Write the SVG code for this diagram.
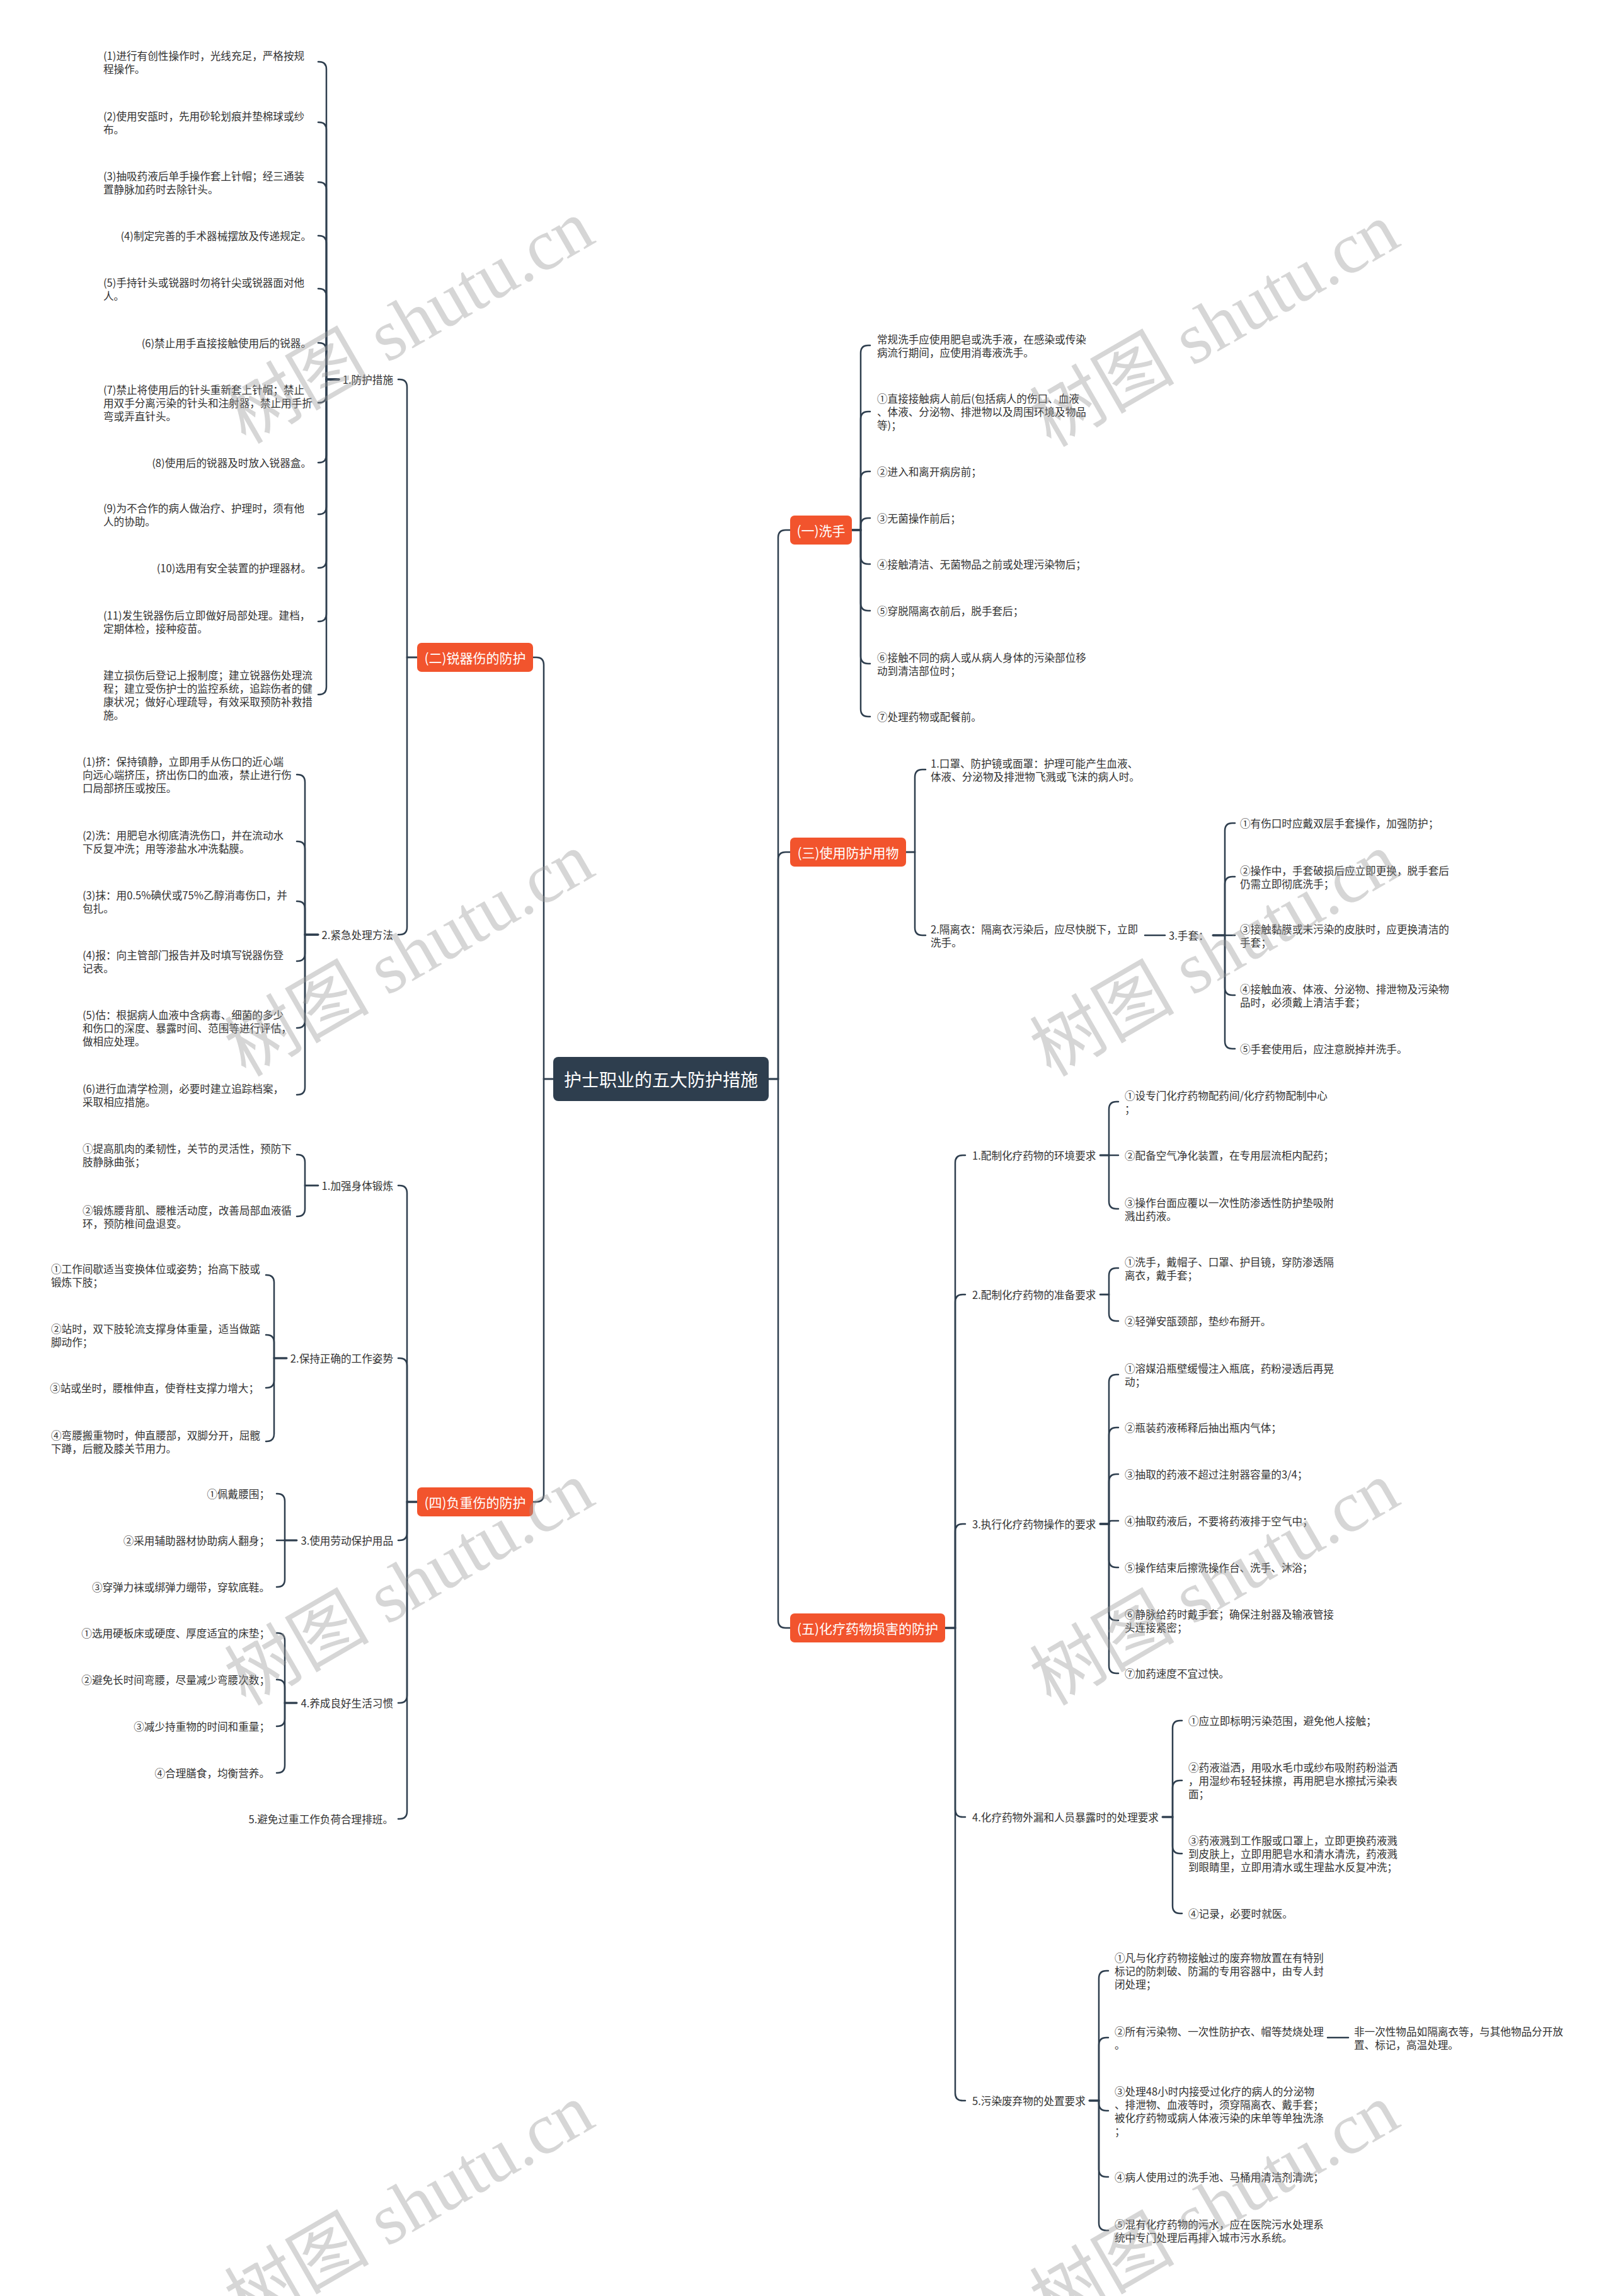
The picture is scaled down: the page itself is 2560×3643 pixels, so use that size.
<svg xmlns="http://www.w3.org/2000/svg" width="2560" height="3643" viewBox="0 0 2560 3643">
<style>
text{font-family:"Noto Sans CJK SC","Liberation Sans",sans-serif;dominant-baseline:central}
.t{font-size:16.6px;fill:#333}
.e{text-anchor:end}
.br{font-size:21px;fill:#fff;text-anchor:middle}
.rt{font-size:28px;fill:#fff;text-anchor:middle}
.bx{fill:#f2542d}
.c{fill:none;stroke:#2e3e4e;stroke-width:2.5;stroke-linecap:round}
.wm{font-family:"Liberation Serif","Noto Sans CJK SC",serif;font-size:115px;fill:#999;fill-opacity:0.4;text-anchor:middle}
</style>
<rect width="2560" height="3643" fill="#fff"/>
<g id="connectors">
<path class="c" d="M878 1712 H863 V1055 Q863 1043 851 1043 H846"/>
<path class="c" d="M878 1712 H863 V2371 Q863 2383 851 2383 H846"/>
<path class="c" d="M1220 1712 H1235 V853 Q1235 841 1247 841 H1254"/>
<path class="c" d="M1220 1712 H1235 V1364 Q1235 1352 1247 1352 H1254"/>
<path class="c" d="M1220 1712 H1235 V2571 Q1235 2583 1247 2583 H1254"/>
<path class="c" d="M1352 841 H1366 V560 Q1366 548 1378 548 H1381"/>
<path class="c" d="M1352 841 H1366 V665 Q1366 653 1378 653 H1381"/>
<path class="c" d="M1352 841 H1366 V760 Q1366 748 1378 748 H1381"/>
<path class="c" d="M1352 841 H1366 V834 Q1366 822 1378 822 H1381"/>
<path class="c" d="M1352 841 H1366 V883 Q1366 895 1378 895 H1381"/>
<path class="c" d="M1352 841 H1366 V957 Q1366 969 1378 969 H1381"/>
<path class="c" d="M1352 841 H1366 V1041 Q1366 1053 1378 1053 H1381"/>
<path class="c" d="M1352 841 H1366 V1125 Q1366 1137 1378 1137 H1381"/>
<path class="c" d="M1438 1352 H1452 V1233 Q1452 1221 1464 1221 H1469"/>
<path class="c" d="M1438 1352 H1452 V1472 Q1452 1484 1464 1484 H1469"/>
<path class="c" d="M1817 1484 H1849"/>
<path class="c" d="M1925 1484 H1944 V1318 Q1944 1306 1956 1306 H1960"/>
<path class="c" d="M1925 1484 H1944 V1403 Q1944 1391 1956 1391 H1960"/>
<path class="c" d="M1925 1484 H1960"/>
<path class="c" d="M1925 1484 H1944 V1567 Q1944 1579 1956 1579 H1960"/>
<path class="c" d="M1925 1484 H1944 V1652 Q1944 1664 1956 1664 H1960"/>
<path class="c" d="M1500 2583 H1516 V1845 Q1516 1833 1528 1833 H1532"/>
<path class="c" d="M1500 2583 H1516 V2066 Q1516 2054 1528 2054 H1532"/>
<path class="c" d="M1500 2583 H1516 V2430 Q1516 2418 1528 2418 H1532"/>
<path class="c" d="M1500 2583 H1516 V2871 Q1516 2883 1528 2883 H1532"/>
<path class="c" d="M1500 2583 H1516 V3321 Q1516 3333 1528 3333 H1532"/>
<path class="c" d="M1746 1833 H1760 V1760 Q1760 1748 1772 1748 H1775"/>
<path class="c" d="M1746 1833 H1775"/>
<path class="c" d="M1746 1833 H1760 V1906 Q1760 1918 1772 1918 H1775"/>
<path class="c" d="M1746 2054 H1760 V2024 Q1760 2012 1772 2012 H1775"/>
<path class="c" d="M1746 2054 H1760 V2084 Q1760 2096 1772 2096 H1775"/>
<path class="c" d="M1746 2418 H1760 V2193 Q1760 2181 1772 2181 H1775"/>
<path class="c" d="M1746 2418 H1760 V2277 Q1760 2265 1772 2265 H1775"/>
<path class="c" d="M1746 2418 H1760 V2351 Q1760 2339 1772 2339 H1775"/>
<path class="c" d="M1746 2418 H1760 V2417 Q1760 2413 1764 2413 H1775"/>
<path class="c" d="M1746 2418 H1760 V2475 Q1760 2487 1772 2487 H1775"/>
<path class="c" d="M1746 2418 H1760 V2559 Q1760 2571 1772 2571 H1775"/>
<path class="c" d="M1746 2418 H1760 V2643 Q1760 2655 1772 2655 H1775"/>
<path class="c" d="M1845 2883 H1861 V2742 Q1861 2730 1873 2730 H1876"/>
<path class="c" d="M1845 2883 H1861 V2837 Q1861 2825 1873 2825 H1876"/>
<path class="c" d="M1845 2883 H1861 V2929 Q1861 2941 1873 2941 H1876"/>
<path class="c" d="M1845 2883 H1861 V3024 Q1861 3036 1873 3036 H1876"/>
<path class="c" d="M1729 3333 H1744 V3139 Q1744 3127 1756 3127 H1759"/>
<path class="c" d="M1729 3333 H1744 V3245 Q1744 3233 1756 3233 H1759"/>
<path class="c" d="M1729 3333 H1744 V3337 Q1744 3349 1756 3349 H1759"/>
<path class="c" d="M1729 3333 H1744 V3442 Q1744 3454 1756 3454 H1759"/>
<path class="c" d="M1729 3333 H1744 V3527 Q1744 3539 1756 3539 H1759"/>
<path class="c" d="M2107 3233 H2140"/>
<path class="c" d="M662 1043 H646 V614 Q646 602 634 602 H632"/>
<path class="c" d="M662 1043 H646 V1471 Q646 1483 634 1483 H632"/>
<path class="c" d="M538 602 H518 V110 Q518 98 506 98 H505"/>
<path class="c" d="M538 602 H518 V206 Q518 194 506 194 H505"/>
<path class="c" d="M538 602 H518 V301 Q518 289 506 289 H505"/>
<path class="c" d="M538 602 H518 V386 Q518 374 506 374 H505"/>
<path class="c" d="M538 602 H518 V470 Q518 458 506 458 H505"/>
<path class="c" d="M538 602 H518 V556 Q518 544 506 544 H505"/>
<path class="c" d="M538 602 H518 V627 Q518 639 506 639 H505"/>
<path class="c" d="M538 602 H518 V722 Q518 734 506 734 H505"/>
<path class="c" d="M538 602 H518 V804 Q518 816 506 816 H505"/>
<path class="c" d="M538 602 H518 V889 Q518 901 506 901 H505"/>
<path class="c" d="M538 602 H518 V974 Q518 986 506 986 H505"/>
<path class="c" d="M538 602 H518 V1090 Q518 1102 506 1102 H505"/>
<path class="c" d="M505 1483 H484 V1241 Q484 1229 472 1229 H471"/>
<path class="c" d="M505 1483 H484 V1347 Q484 1335 472 1335 H471"/>
<path class="c" d="M505 1483 H484 V1442 Q484 1430 472 1430 H471"/>
<path class="c" d="M505 1483 H484 V1513 Q484 1525 472 1525 H471"/>
<path class="c" d="M505 1483 H484 V1619 Q484 1631 472 1631 H471"/>
<path class="c" d="M505 1483 H484 V1725 Q484 1737 472 1737 H471"/>
<path class="c" d="M662 2383 H646 V1893 Q646 1881 634 1881 H632"/>
<path class="c" d="M662 2383 H646 V2167 Q646 2155 634 2155 H632"/>
<path class="c" d="M662 2383 H646 V2432 Q646 2444 634 2444 H632"/>
<path class="c" d="M662 2383 H646 V2690 Q646 2702 634 2702 H632"/>
<path class="c" d="M662 2383 H646 V2874 Q646 2886 634 2886 H632"/>
<path class="c" d="M505 1881 H484 V1844 Q484 1832 472 1832 H471"/>
<path class="c" d="M505 1881 H484 V1918 Q484 1930 472 1930 H471"/>
<path class="c" d="M455 2155 H435 V2035 Q435 2023 423 2023 H422"/>
<path class="c" d="M455 2155 H435 V2130 Q435 2118 423 2118 H422"/>
<path class="c" d="M455 2155 H435 V2190 Q435 2202 423 2202 H422"/>
<path class="c" d="M455 2155 H435 V2275 Q435 2287 423 2287 H422"/>
<path class="c" d="M471 2444 H452 V2382 Q452 2370 440 2370 H439"/>
<path class="c" d="M471 2444 H439"/>
<path class="c" d="M471 2444 H452 V2506 Q452 2518 440 2518 H439"/>
<path class="c" d="M471 2702 H452 V2603 Q452 2591 440 2591 H439"/>
<path class="c" d="M471 2702 H452 V2677 Q452 2665 440 2665 H439"/>
<path class="c" d="M471 2702 H452 V2727 Q452 2739 440 2739 H439"/>
<path class="c" d="M471 2702 H452 V2801 Q452 2813 440 2813 H439"/>
</g>

<g id="root"><rect x="878" y="1677" width="342" height="70" rx="8" fill="#2e3e4e"/><text class="rt" x="1049" y="1712">护士职业的五大防护措施</text></g>

<g id="b1"><rect class="bx" x="1254" y="818" width="98" height="46" rx="7"/><text class="br" x="1303" y="841">(一)洗手</text></g>
<g id="b3"><rect class="bx" x="1254" y="1329" width="184" height="46" rx="7"/><text class="br" x="1346" y="1352">(三)使用防护用物</text></g>
<g id="b5"><rect class="bx" x="1254" y="2560" width="246" height="46" rx="7"/><text class="br" x="1377" y="2583">(五)化疗药物损害的防护</text></g>
<g id="b2"><rect class="bx" x="662" y="1020" width="184" height="46" rx="7"/><text class="br" x="754" y="1043">(二)锐器伤的防护</text></g>
<g id="b4"><rect class="bx" x="662" y="2360" width="184" height="46" rx="7"/><text class="br" x="754" y="2383">(四)负重伤的防护</text></g>

<g id="n1-items">
<g id="n1-0"><text class="t"><tspan x="1392" y="537.5">常规洗手应使用肥皂或洗手液，在感染或传染</tspan><tspan x="1392" y="558.5">病流行期间，应使用消毒液洗手。</tspan></text></g>
<g id="n1-1"><text class="t"><tspan x="1392" y="632">①直接接触病人前后(包括病人的伤口、血液</tspan><tspan x="1392" y="653">、体液、分泌物、排泄物以及周围环境及物品</tspan><tspan x="1392" y="674">等)；</tspan></text></g>
<g id="n1-2"><text class="t" x="1392" y="748">②进入和离开病房前；</text></g>
<g id="n1-3"><text class="t" x="1392" y="822">③无菌操作前后；</text></g>
<g id="n1-4"><text class="t" x="1392" y="895">④接触清洁、无菌物品之前或处理污染物后；</text></g>
<g id="n1-5"><text class="t" x="1392" y="969">⑤穿脱隔离衣前后，脱手套后；</text></g>
<g id="n1-6"><text class="t"><tspan x="1392" y="1042.5">⑥接触不同的病人或从病人身体的污染部位移</tspan><tspan x="1392" y="1063.5">动到清洁部位时；</tspan></text></g>
<g id="n1-7"><text class="t" x="1392" y="1137">⑦处理药物或配餐前。</text></g>
</g>

<g id="n3-items">
<g id="n3-1"><text class="t"><tspan x="1477" y="1210.5">1.口罩、防护镜或面罩：护理可能产生血液、</tspan><tspan x="1477" y="1231.5">体液、分泌物及排泄物飞溅或飞沫的病人时。</tspan></text></g>
<g id="n3-2"><text class="t"><tspan x="1477" y="1473.5">2.隔离衣：隔离衣污染后，应尽快脱下，立即</tspan><tspan x="1477" y="1494.5">洗手。</tspan></text></g>
<g id="n3-3"><text class="t" x="1855" y="1484">3.手套：</text></g>
<g id="n3-3-1"><text class="t" x="1968" y="1306">①有伤口时应戴双层手套操作，加强防护；</text></g>
<g id="n3-3-2"><text class="t"><tspan x="1968" y="1380.5">②操作中，手套破损后应立即更换，脱手套后</tspan><tspan x="1968" y="1401.5">仍需立即彻底洗手；</tspan></text></g>
<g id="n3-3-3"><text class="t"><tspan x="1968" y="1473.5">③接触黏膜或未污染的皮肤时，应更换清洁的</tspan><tspan x="1968" y="1494.5">手套；</tspan></text></g>
<g id="n3-3-4"><text class="t"><tspan x="1968" y="1568.5">④接触血液、体液、分泌物、排泄物及污染物</tspan><tspan x="1968" y="1589.5">品时，必须戴上清洁手套；</tspan></text></g>
<g id="n3-3-5"><text class="t" x="1968" y="1664">⑤手套使用后，应注意脱掉并洗手。</text></g>
</g>

<g id="n5-items">
<g id="n5-1"><text class="t" x="1543" y="1833">1.配制化疗药物的环境要求</text></g>
<g id="n5-1-1"><text class="t"><tspan x="1785" y="1737.5">①设专门化疗药物配药间/化疗药物配制中心</tspan><tspan x="1785" y="1758.5">；</tspan></text></g>
<g id="n5-1-2"><text class="t" x="1785" y="1833">②配备空气净化装置，在专用层流柜内配药；</text></g>
<g id="n5-1-3"><text class="t"><tspan x="1785" y="1907.5">③操作台面应覆以一次性防渗透性防护垫吸附</tspan><tspan x="1785" y="1928.5">溅出药液。</tspan></text></g>
<g id="n5-2"><text class="t" x="1543" y="2054">2.配制化疗药物的准备要求</text></g>
<g id="n5-2-1"><text class="t"><tspan x="1785" y="2001.5">①洗手，戴帽子、口罩、护目镜，穿防渗透隔</tspan><tspan x="1785" y="2022.5">离衣，戴手套；</tspan></text></g>
<g id="n5-2-2"><text class="t" x="1785" y="2096">②轻弹安瓿颈部，垫纱布掰开。</text></g>
<g id="n5-3"><text class="t" x="1543" y="2418">3.执行化疗药物操作的要求</text></g>
<g id="n5-3-1"><text class="t"><tspan x="1785" y="2170.5">①溶媒沿瓶壁缓慢注入瓶底，药粉浸透后再晃</tspan><tspan x="1785" y="2191.5">动；</tspan></text></g>
<g id="n5-3-2"><text class="t" x="1785" y="2265">②瓶装药液稀释后抽出瓶内气体；</text></g>
<g id="n5-3-3"><text class="t" x="1785" y="2339">③抽取的药液不超过注射器容量的3/4；</text></g>
<g id="n5-3-4"><text class="t" x="1785" y="2413">④抽取药液后，不要将药液排于空气中；</text></g>
<g id="n5-3-5"><text class="t" x="1785" y="2487">⑤操作结束后擦洗操作台、洗手、沐浴；</text></g>
<g id="n5-3-6"><text class="t"><tspan x="1785" y="2560.5">⑥静脉给药时戴手套；确保注射器及输液管接</tspan><tspan x="1785" y="2581.5">头连接紧密；</tspan></text></g>
<g id="n5-3-7"><text class="t" x="1785" y="2655">⑦加药速度不宜过快。</text></g>
<g id="n5-4"><text class="t" x="1543" y="2883">4.化疗药物外漏和人员暴露时的处理要求</text></g>
<g id="n5-4-1"><text class="t" x="1886" y="2730">①应立即标明污染范围，避免他人接触；</text></g>
<g id="n5-4-2"><text class="t"><tspan x="1886" y="2804">②药液溢洒，用吸水毛巾或纱布吸附药粉溢洒</tspan><tspan x="1886" y="2825">，用湿纱布轻轻抹擦，再用肥皂水擦拭污染表</tspan><tspan x="1886" y="2846">面；</tspan></text></g>
<g id="n5-4-3"><text class="t"><tspan x="1886" y="2920">③药液溅到工作服或口罩上，立即更换药液溅</tspan><tspan x="1886" y="2941">到皮肤上，立即用肥皂水和清水清洗，药液溅</tspan><tspan x="1886" y="2962">到眼睛里，立即用清水或生理盐水反复冲洗；</tspan></text></g>
<g id="n5-4-4"><text class="t" x="1886" y="3036">④记录，必要时就医。</text></g>
<g id="n5-5"><text class="t" x="1543" y="3333">5.污染废弃物的处置要求</text></g>
<g id="n5-5-1"><text class="t"><tspan x="1769" y="3106">①凡与化疗药物接触过的废弃物放置在有特别</tspan><tspan x="1769" y="3127">标记的防刺破、防漏的专用容器中，由专人封</tspan><tspan x="1769" y="3148">闭处理；</tspan></text></g>
<g id="n5-5-2"><text class="t"><tspan x="1769" y="3222.5">②所有污染物、一次性防护衣、帽等焚烧处理</tspan><tspan x="1769" y="3243.5">。</tspan></text></g>
<g id="n5-5-2-1"><text class="t"><tspan x="2149" y="3222.5">非一次性物品如隔离衣等，与其他物品分开放</tspan><tspan x="2149" y="3243.5">置、标记，高温处理。</tspan></text></g>
<g id="n5-5-3"><text class="t"><tspan x="1769" y="3317.5">③处理48小时内接受过化疗的病人的分泌物</tspan><tspan x="1769" y="3338.5">、排泄物、血液等时，须穿隔离衣、戴手套；</tspan><tspan x="1769" y="3359.5">被化疗药物或病人体液污染的床单等单独洗涤</tspan><tspan x="1769" y="3380.5">；</tspan></text></g>
<g id="n5-5-4"><text class="t" x="1769" y="3454">④病人使用过的洗手池、马桶用清洁剂清洗；</text></g>
<g id="n5-5-5"><text class="t"><tspan x="1769" y="3528.5">⑤混有化疗药物的污水，应在医院污水处理系</tspan><tspan x="1769" y="3549.5">统中专门处理后再排入城市污水系统。</tspan></text></g>
</g>

<g id="n2-items">
<g id="n2-1"><text class="t e" x="624" y="602">1.防护措施</text></g>
<g id="n2-1-1"><text class="t"><tspan x="164" y="88">(1)进行有创性操作时，光线充足，严格按规</tspan><tspan x="164" y="109">程操作。</tspan></text></g>
<g id="n2-1-2"><text class="t"><tspan x="164" y="183.5">(2)使用安瓿时，先用砂轮划痕并垫棉球或纱</tspan><tspan x="164" y="204.5">布。</tspan></text></g>
<g id="n2-1-3"><text class="t"><tspan x="164" y="279">(3)抽吸药液后单手操作套上针帽；经三通装</tspan><tspan x="164" y="300">置静脉加药时去除针头。</tspan></text></g>
<g id="n2-1-4"><text class="t e" x="494" y="374">(4)制定完善的手术器械摆放及传递规定。</text></g>
<g id="n2-1-5"><text class="t"><tspan x="164" y="448">(5)手持针头或锐器时勿将针尖或锐器面对他</tspan><tspan x="164" y="469">人。</tspan></text></g>
<g id="n2-1-6"><text class="t e" x="494" y="544">(6)禁止用手直接接触使用后的锐器。</text></g>
<g id="n2-1-7"><text class="t"><tspan x="164" y="618">(7)禁止将使用后的针头重新套上针帽；禁止</tspan><tspan x="164" y="639">用双手分离污染的针头和注射器，禁止用手折</tspan><tspan x="164" y="660">弯或弄直针头。</tspan></text></g>
<g id="n2-1-8"><text class="t e" x="494" y="734">(8)使用后的锐器及时放入锐器盒。</text></g>
<g id="n2-1-9"><text class="t"><tspan x="164" y="806">(9)为不合作的病人做治疗、护理时，须有他</tspan><tspan x="164" y="827">人的协助。</tspan></text></g>
<g id="n2-1-10"><text class="t e" x="494" y="901">(10)选用有安全装置的护理器材。</text></g>
<g id="n2-1-11"><text class="t"><tspan x="164" y="976">(11)发生锐器伤后立即做好局部处理。建档，</tspan><tspan x="164" y="997">定期体检，接种疫苗。</tspan></text></g>
<g id="n2-1-12"><text class="t"><tspan x="164" y="1070.5">建立损伤后登记上报制度；建立锐器伤处理流</tspan><tspan x="164" y="1091.5">程；建立受伤护士的监控系统，追踪伤者的健</tspan><tspan x="164" y="1112.5">康状况；做好心理疏导，有效采取预防补救措</tspan><tspan x="164" y="1133.5">施。</tspan></text></g>
<g id="n2-2"><text class="t e" x="624" y="1483">2.紧急处理方法</text></g>
<g id="n2-2-1"><text class="t"><tspan x="131" y="1208">(1)挤：保持镇静，立即用手从伤口的近心端</tspan><tspan x="131" y="1229">向远心端挤压，挤出伤口的血液，禁止进行伤</tspan><tspan x="131" y="1250">口局部挤压或按压。</tspan></text></g>
<g id="n2-2-2"><text class="t"><tspan x="131" y="1324.5">(2)洗：用肥皂水彻底清洗伤口，并在流动水</tspan><tspan x="131" y="1345.5">下反复冲洗；用等渗盐水冲洗黏膜。</tspan></text></g>
<g id="n2-2-3"><text class="t"><tspan x="131" y="1419.5">(3)抹：用0.5%碘伏或75%乙醇消毒伤口，并</tspan><tspan x="131" y="1440.5">包扎。</tspan></text></g>
<g id="n2-2-4"><text class="t"><tspan x="131" y="1514.5">(4)报：向主管部门报告并及时填写锐器伤登</tspan><tspan x="131" y="1535.5">记表。</tspan></text></g>
<g id="n2-2-5"><text class="t"><tspan x="131" y="1610">(5)估：根据病人血液中含病毒、细菌的多少</tspan><tspan x="131" y="1631">和伤口的深度、暴露时间、范围等进行评估，</tspan><tspan x="131" y="1652">做相应处理。</tspan></text></g>
<g id="n2-2-6"><text class="t"><tspan x="131" y="1726.5">(6)进行血清学检测，必要时建立追踪档案，</tspan><tspan x="131" y="1747.5">采取相应措施。</tspan></text></g>
</g>

<g id="n4-items">
<g id="n4-1"><text class="t e" x="624" y="1881">1.加强身体锻炼</text></g>
<g id="n4-1-1"><text class="t"><tspan x="131" y="1821.5">①提高肌肉的柔韧性，关节的灵活性，预防下</tspan><tspan x="131" y="1842.5">肢静脉曲张；</tspan></text></g>
<g id="n4-1-2"><text class="t"><tspan x="131" y="1919.5">②锻炼腰背肌、腰椎活动度，改善局部血液循</tspan><tspan x="131" y="1940.5">环，预防椎间盘退变。</tspan></text></g>
<g id="n4-2"><text class="t e" x="624" y="2155">2.保持正确的工作姿势</text></g>
<g id="n4-2-1"><text class="t"><tspan x="81" y="2012.5">①工作间歇适当变换体位或姿势；抬高下肢或</tspan><tspan x="81" y="2033.5">锻炼下肢；</tspan></text></g>
<g id="n4-2-2"><text class="t"><tspan x="81" y="2107.5">②站时，双下肢轮流支撑身体重量，适当做踮</tspan><tspan x="81" y="2128.5">脚动作；</tspan></text></g>
<g id="n4-2-3"><text class="t e" x="411" y="2202">③站或坐时，腰椎伸直，使脊柱支撑力增大；</text></g>
<g id="n4-2-4"><text class="t"><tspan x="81" y="2276.5">④弯腰搬重物时，伸直腰部，双脚分开，屈髋</tspan><tspan x="81" y="2297.5">下蹲，后髋及膝关节用力。</tspan></text></g>
<g id="n4-3"><text class="t e" x="624" y="2444">3.使用劳动保护用品</text></g>
<g id="n4-3-1"><text class="t e" x="428" y="2370">①佩戴腰围；</text></g>
<g id="n4-3-2"><text class="t e" x="428" y="2444">②采用辅助器材协助病人翻身；</text></g>
<g id="n4-3-3"><text class="t e" x="428" y="2518">③穿弹力袜或绑弹力绷带，穿软底鞋。</text></g>
<g id="n4-4"><text class="t e" x="624" y="2702">4.养成良好生活习惯</text></g>
<g id="n4-4-1"><text class="t e" x="428" y="2591">①选用硬板床或硬度、厚度适宜的床垫；</text></g>
<g id="n4-4-2"><text class="t e" x="428" y="2665">②避免长时间弯腰，尽量减少弯腰次数；</text></g>
<g id="n4-4-3"><text class="t e" x="428" y="2739">③减少持重物的时间和重量；</text></g>
<g id="n4-4-4"><text class="t e" x="428" y="2813">④合理膳食，均衡营养。</text></g>
<g id="n4-5"><text class="t e" x="624" y="2886">5.避免过重工作负荷合理排班。</text></g>
</g>

<g id="watermarks">
<text class="wm" x="650" y="511" transform="rotate(-30 650 511)">树图 shutu.cn</text>
<text class="wm" x="1928" y="516" transform="rotate(-30 1928 516)">树图 shutu.cn</text>
<text class="wm" x="650" y="1515" transform="rotate(-30 650 1515)">树图 shutu.cn</text>
<text class="wm" x="1928" y="1515" transform="rotate(-30 1928 1515)">树图 shutu.cn</text>
<text class="wm" x="650" y="2513" transform="rotate(-30 650 2513)">树图 shutu.cn</text>
<text class="wm" x="1928" y="2513" transform="rotate(-30 1928 2513)">树图 shutu.cn</text>
<text class="wm" x="650" y="3500" transform="rotate(-30 650 3500)">树图 shutu.cn</text>
<text class="wm" x="1928" y="3500" transform="rotate(-30 1928 3500)">树图 shutu.cn</text>
</g>
</svg>
